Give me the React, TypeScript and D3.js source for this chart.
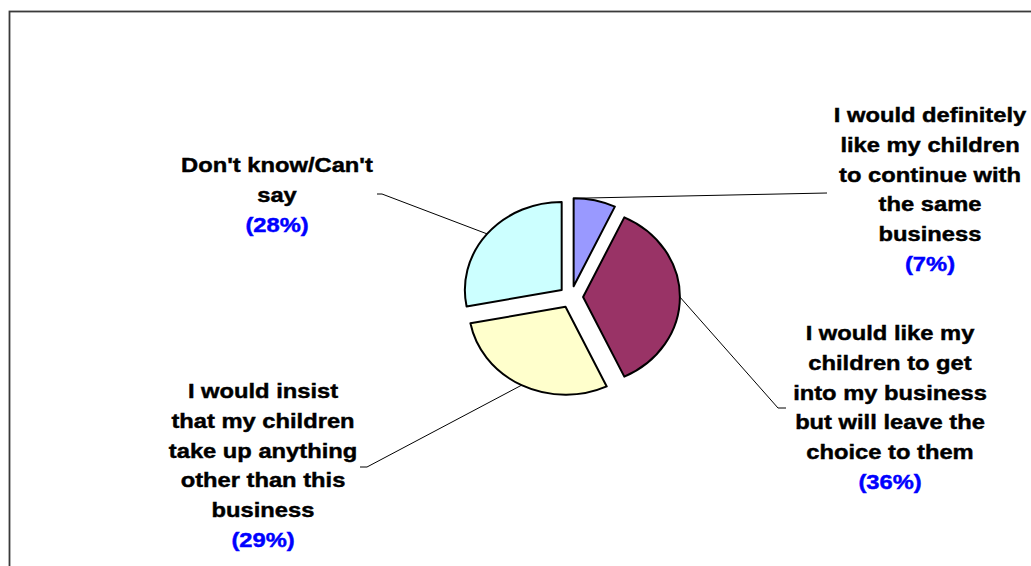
import * as d3 from "d3";

// slices, clockwise from 12 o'clock
const categories = [
  "I would definitely like my children to continue with the same business",
  "I would like my children to get into my business but will leave the choice to them",
  "I would insist that my children take up anything other than this business",
  "Don't know/Can't say",
];
const shares = [7, 36, 29, 28];
const colors = ["#9999FF", "#993366", "#FFFFCC", "#CCFFFF"];

// how the labels wrap in the original
const labelLines = [
  ["I would definitely", "like my children", "to continue with", "the same", "business"],
  ["I would like my", "children to get", "into my business", "but will leave the", "choice to them"],
  ["I would insist", "that my children", "take up anything", "other than this", "business"],
  ["Don't know/Can't", "say"],
];

export default function App() {
  const width = 1031,
    height = 566;
  const cx = 571,
    cy = 297,
    r = 88,
    sx = 1.1, // the pie is a bit wider than tall
    explode = 11;
  const lineH = 29.8;

  const pie = d3
    .pie<number>()
    .sort(null)
    .value((d) => d)
    .startAngle(0)
    .endAngle(2 * Math.PI);
  const arcs = pie(shares);
  const arc = d3.arc<d3.PieArcDatum<number>>().innerRadius(0).outerRadius(r);

  // label placement + where each leader line meets the label
  const labelPos = [
    { x: 930, y: 122, end: [827, 193], stub: null, edge: 0.02 },
    { x: 890, y: 340, end: [778, 408], stub: [786, 408], edge: 0.5 },
    { x: 263, y: 398, end: [367, 467], stub: [360, 467], edge: 0.5 },
    { x: 277, y: 172, end: [382, 194], stub: [377, 194], edge: 0.5 },
  ];

  const sliceOffset = (a: d3.PieArcDatum<number>) => {
    const mid = (a.startAngle + a.endAngle) / 2;
    return [Math.sin(mid) * explode * sx, -Math.cos(mid) * explode];
  };

  return (
    <svg
      width={width}
      height={height}
      style={{ position: "absolute", left: 0, top: 0, background: "#fff" }}
    >
      <rect
        x={9.5}
        y={11.5}
        width={1200}
        height={1000}
        fill="none"
        stroke="#3a3a3a"
        strokeWidth={1.8}
      />

      {/* slices */}
      {arcs.map((a, i) => {
        const [ox, oy] = sliceOffset(a);
        return (
          <g key={i} transform={`translate(${cx + ox},${cy + oy}) scale(${sx},1)`}>
            <path
              d={arc(a) || ""}
              fill={colors[i]}
              stroke="#000"
              strokeWidth={2}
              strokeLinejoin="round"
              vectorEffect="non-scaling-stroke"
            />
          </g>
        );
      })}

      {/* leader lines */}
      {arcs.map((a, i) => {
        const [ox, oy] = sliceOffset(a);
        const p = labelPos[i];
        const ang = a.startAngle + (a.endAngle - a.startAngle) * p.edge;
        const x0 = cx + ox + Math.sin(ang) * r * sx;
        const y0 = cy + oy - Math.cos(ang) * r;
        const pts: number[][] = [[x0, y0], p.end];
        if (p.stub) pts.push(p.stub);
        return (
          <path
            key={i}
            d={d3.line()(pts as [number, number][]) || ""}
            fill="none"
            stroke="#000"
            strokeWidth={1}
          />
        );
      })}

      {/* labels */}
      {labelLines.map((lines, i) => {
        const p = labelPos[i];
        return (
          <g key={i} transform={`translate(${p.x},0) scale(1.13,1)`}>
            <text
              textAnchor="middle"
              fontFamily="'Liberation Sans', Arial, sans-serif"
              fontWeight="bold"
              fontSize={21}
              strokeWidth={0.45}
            >
              {lines.map((ln, j) => (
                <tspan key={j} x={0} y={p.y + j * lineH} fill="#000" stroke="#000">
                  {ln}
                </tspan>
              ))}
              <tspan
                x={0}
                y={p.y + lines.length * lineH}
                fill="#0000FF"
                stroke="#0000FF"
              >
                {`(${shares[i]}%)`}
              </tspan>
            </text>
          </g>
        );
      })}
    </svg>
  );
}
